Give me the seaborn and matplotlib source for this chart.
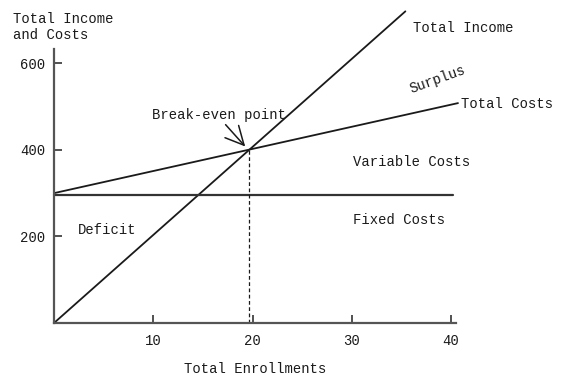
import numpy as np
import pandas as pd
import seaborn as sns
import matplotlib.pyplot as plt

sns.set_theme(style="white")
plt.rcParams['font.family'] = ['Liberation Mono', 'DejaVu Sans Mono']

# values
enrollments_income = [0, 35.4]
income_values = [0, 720]
enrollments_costs = [0, 40.7]
total_cost_values = [300, 508]
enrollments_fixed = [0, 40.2]
fixed_cost_values = [295, 295]
break_even_x = 19.6
break_even_y = 400

x_ticks = [10, 20, 30, 40]
y_ticks = [200, 400, 600]

ink = '#1a1a1a'

fig = plt.figure(figsize=(5.65, 3.82), dpi=100)
ax = fig.add_axes([54 / 565, 1 - 323 / 382, (456 - 54) / 565, (323 - 49) / 382])

sns.lineplot(x=enrollments_income, y=income_values, ax=ax, color=ink, lw=1.3, clip_on=False)
sns.lineplot(x=enrollments_costs, y=total_cost_values, ax=ax, color=ink, lw=1.3, clip_on=False)
sns.lineplot(x=enrollments_fixed, y=fixed_cost_values, ax=ax, color='#333333', lw=1.6, clip_on=False)

# dashed drop line from the break-even point
ax.plot([break_even_x, break_even_x], [0, break_even_y], color=ink, lw=0.9,
        ls=(0, (3, 2)))

ax.set_xlim(0, 40.5)
ax.set_ylim(0, 633)
ax.set_xticks(x_ticks)
ax.set_xticklabels([str(t) for t in x_ticks])
ax.set_yticks(y_ticks)
ax.set_yticklabels([str(t) for t in y_ticks])
ax.tick_params(axis='both', bottom=True, left=True, direction='in', length=6,
               width=1.2, color='#333333', labelsize=10, labelcolor=ink)
ax.tick_params(axis='y', pad=6.5)
ax.tick_params(axis='x', pad=8)

for side in ['top', 'right']:
    ax.spines[side].set_visible(False)
for side in ['left', 'bottom']:
    ax.spines[side].set_color('#555555')
    ax.spines[side].set_linewidth(1.6)

ax.set_xlabel('Total Enrollments', fontsize=10, color=ink, labelpad=10)
ax.set_ylabel('')

fig.text(13 / 565, 1 - 12 / 382, 'Total Income\nand Costs', fontsize=10, color=ink,
         ha='left', va='top', linespacing=1.15)

ax.text(36.15, 681, 'Total Income', fontsize=10, color=ink, ha='left', va='center')
ax.text(38.6, 562, 'Surplus', fontsize=10, color=ink, ha='center', va='center', rotation=20)
ax.text(41.0, 506, 'Total Costs', fontsize=10, color=ink, ha='left', va='center')
ax.text(30.1, 372, 'Variable Costs', fontsize=10, color=ink, ha='left', va='center')
ax.text(30.1, 238, 'Fixed Costs', fontsize=10, color=ink, ha='left', va='center')
ax.text(2.4, 215, 'Deficit', fontsize=10, color=ink, ha='left', va='center')

ax.annotate('Break-even point', xy=(break_even_x, break_even_y), xytext=(9.87, 481),
            fontsize=10, color=ink, ha='left', va='center')
ax.annotate('', xy=(break_even_x - 0.15, break_even_y + 3), xytext=(17.1, 463),
            arrowprops=dict(arrowstyle='->,head_length=1.1,head_width=0.55',
                            color=ink, lw=1.1))

fig.savefig('out.png', dpi=100)
